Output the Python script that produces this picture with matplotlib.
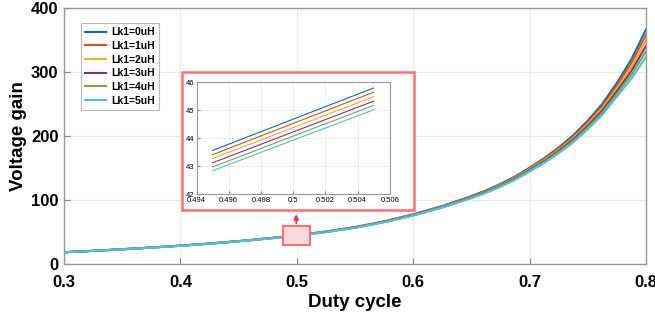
import matplotlib
matplotlib.use("Agg")
import matplotlib.pyplot as plt
from matplotlib.patches import Rectangle

plt.rcParams['font.family'] = ['Liberation Sans', 'DejaVu Sans']

# duty cycle and voltage gain
duty = [0.300, 0.325, 0.350, 0.375, 0.400, 0.425, 0.450, 0.475, 0.500, 0.525, 0.550,
        0.575, 0.600, 0.625, 0.650, 0.6625, 0.675, 0.6875, 0.700, 0.7125, 0.725,
        0.7375, 0.750, 0.7625, 0.775, 0.7875, 0.800]
gain_0uH = [18.30, 20.50, 23.00, 25.70, 28.60, 31.90, 35.70, 40.00, 44.70, 50.60, 57.60,
            66.50, 77.50, 90.50, 106.00, 114.90, 125.00, 136.70, 150.50, 165.10, 182.00,
            201.00, 224.00, 250.10, 283.00, 319.90, 366.50]
gain_1uH = [18.26, 20.45, 22.94, 25.63, 28.52, 31.81, 35.59, 39.87, 44.55, 50.41, 57.36,
            66.19, 77.10, 89.98, 105.32, 114.11, 124.08, 135.63, 149.25, 163.60, 180.20,
            198.80, 221.30, 246.70, 278.70, 313.80, 357.90]
gain_2uH = [18.22, 20.40, 22.88, 25.56, 28.44, 31.72, 35.48, 39.74, 44.39, 50.22, 57.12,
            65.88, 76.70, 89.46, 104.64, 113.32, 123.16, 134.56, 148.00, 162.10, 178.40,
            196.60, 218.60, 243.30, 274.40, 307.70, 349.30]
gain_3uH = [18.18, 20.35, 22.82, 25.49, 28.36, 31.63, 35.37, 39.61, 44.24, 50.03, 56.88,
            65.57, 76.30, 88.94, 103.96, 112.53, 122.24, 133.49, 146.75, 160.60, 176.60,
            194.40, 215.90, 239.90, 270.10, 301.60, 340.70]
gain_4uH = [18.14, 20.30, 22.76, 25.42, 28.28, 31.54, 35.26, 39.48, 44.08, 49.84, 56.64,
            65.26, 75.90, 88.42, 103.28, 111.74, 121.32, 132.42, 145.50, 159.10, 174.80,
            192.20, 213.20, 236.50, 265.80, 295.50, 332.10]
gain_5uH = [18.10, 20.25, 22.70, 25.35, 28.20, 31.45, 35.15, 39.35, 43.93, 49.65, 56.40,
            64.95, 75.50, 87.90, 102.60, 110.95, 120.40, 131.35, 144.25, 157.60, 173.00,
            190.00, 210.50, 233.10, 261.50, 289.40, 323.50]

# zoomed view around D = 0.5
inset_duty = [0.495, 0.505]
inset_0uH = [43.57, 45.80]
inset_1uH = [43.42, 45.65]
inset_2uH = [43.28, 45.49]
inset_3uH = [43.13, 45.33]
inset_4uH = [42.98, 45.18]
inset_5uH = [42.85, 45.02]

labels = ['Lk1=0uH', 'Lk1=1uH', 'Lk1=2uH', 'Lk1=3uH', 'Lk1=4uH', 'Lk1=5uH']
colors = ['#0072BD', '#D95319', '#EDB120', '#7E2F8E', '#77AC30', '#4DBEEE']

main_series = [gain_0uH, gain_1uH, gain_2uH, gain_3uH, gain_4uH, gain_5uH]
inset_series = [inset_0uH, inset_1uH, inset_2uH, inset_3uH, inset_4uH, inset_5uH]

fig = plt.figure(figsize=(6.55, 3.23), dpi=100)
ax = fig.add_axes([0.0977, 0.183, 0.8885, 0.792])

for g, c, l in zip(main_series, colors, labels):
    ax.plot(duty, g, color=c, lw=1.5, label=l)

ax.set_xlim(0.3, 0.8)
ax.set_ylim(0, 400)
ax.set_xticks([0.3, 0.4, 0.5, 0.6, 0.7, 0.8])
ax.set_xticklabels(['0.3', '0.4', '0.5', '0.6', '0.7', '0.8'])
ax.set_yticks([0, 100, 200, 300, 400])
ax.grid(True, color='#ebebeb', lw=0.8)
ax.tick_params(direction='in', length=4, color='#888888', labelsize=12)
ax.tick_params(axis='x', pad=8)
ax.tick_params(axis='y', pad=4)
for t in ax.get_xticklabels() + ax.get_yticklabels():
    t.set_fontweight('bold')
for s in ax.spines.values():
    s.set_color('#999999')
    s.set_linewidth(1.0)
ax.set_xlabel('Duty cycle', fontsize=13.5, fontweight='bold', labelpad=3)
ax.set_ylabel('Voltage gain', fontsize=13.5, fontweight='bold', labelpad=3)

leg = ax.legend(loc='upper left', bbox_to_anchor=(0.029, 0.941), borderaxespad=0,
                prop={'weight': 'bold', 'size': 7.5}, frameon=True, fancybox=False,
                handlelength=2.0, handletextpad=0.5, labelspacing=0.35, borderpad=0.4)
leg.get_frame().set_edgecolor('#aaaaaa')
leg.get_frame().set_linewidth(0.8)

# highlight box and arrow
ax.add_patch(Rectangle((0.488, 30), 0.023, 29, facecolor='#fadadd',
                       edgecolor='#ff7070', lw=1.5, zorder=3))
ax.annotate('', xy=(0.4995, 82), xytext=(0.4995, 59),
            arrowprops=dict(arrowstyle='-|>', color='#ff3030', lw=1.2, mutation_scale=7))

# red frame around inset
fig.patches.append(Rectangle((0.278, 0.350), 0.354, 0.427, transform=fig.transFigure,
                             facecolor='white', edgecolor='#ff7070', lw=1.8, zorder=5))

axin = fig.add_axes([0.300, 0.398, 0.295, 0.347], zorder=6)
for g, c in zip(inset_series, colors):
    axin.plot(inset_duty, g, color=c, lw=0.8)
axin.set_xlim(0.494, 0.506)
axin.set_ylim(42, 46)
axin.set_xticks([0.494, 0.496, 0.498, 0.5, 0.502, 0.504, 0.506])
axin.set_xticklabels(['0.494', '0.496', '0.498', '0.5', '0.502', '0.504', '0.506'])
axin.set_yticks([42, 43, 44, 45, 46])
axin.grid(True, color='#ebebeb', lw=0.6)
axin.tick_params(direction='in', length=2, labelsize=5.5, pad=1.5, color='#888888')
for s in axin.spines.values():
    s.set_color('#999999')
    s.set_linewidth(0.8)

fig.savefig('out.png', dpi=100)
